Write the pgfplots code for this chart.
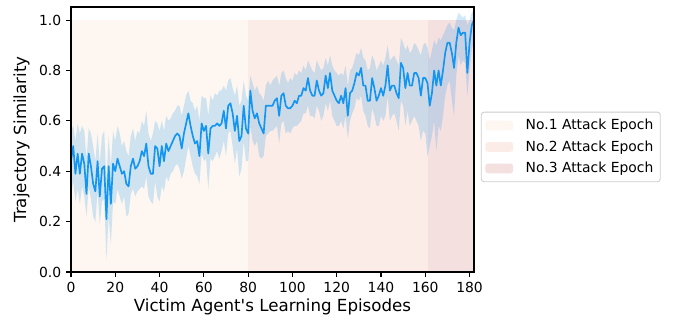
\documentclass[border=0pt]{standalone}
\usepackage{fontspec}
\setmainfont{DejaVu Sans}
\newfontfamily\dv{DejaVu Sans}
\usepackage{pgfplots}
\pgfplotsset{compat=1.18}
\usepgfplotslibrary{fillbetween}
\usepackage{pgfplotstable}

\definecolor{regA}{RGB}{253,246,241}
\definecolor{regB}{RGB}{251,236,231}
\definecolor{regC}{RGB}{245,224,224}
\definecolor{linec}{RGB}{20,150,240}

\pgfplotstableread{
x y lo hi
0 0.44 0.30 0.56
1 0.50 0.36 0.58
2 0.39 0.28 0.52
3 0.47 0.33 0.59
4 0.39 0.27 0.55
5 0.47 0.34 0.58
6 0.43 0.30 0.56
7 0.31 0.22 0.45
8 0.47 0.34 0.57
9 0.42 0.29 0.55
10 0.35 0.22 0.50
11 0.32 0.20 0.44
12 0.44 0.32 0.55
13 0.30 0.19 0.43
14 0.41 0.28 0.54
15 0.42 0.29 0.56
16 0.21 0.05 0.36
17 0.42 0.22 0.54
18 0.27 0.11 0.42
19 0.43 0.28 0.56
20 0.40 0.27 0.52
21 0.45 0.33 0.58
22 0.42 0.30 0.55
23 0.39 0.27 0.50
24 0.40 0.30 0.52
25 0.35 0.22 0.48
26 0.34 0.23 0.46
27 0.42 0.31 0.54
28 0.45 0.33 0.57
29 0.41 0.30 0.52
30 0.42 0.32 0.56
31 0.44 0.33 0.55
32 0.48 0.34 0.60
33 0.46 0.33 0.58
34 0.51 0.38 0.64
35 0.42 0.30 0.55
36 0.39 0.28 0.52
37 0.39 0.27 0.55
38 0.50 0.36 0.60
39 0.49 0.30 0.59
40 0.42 0.28 0.56
41 0.50 0.34 0.60
42 0.44 0.32 0.56
43 0.51 0.38 0.62
44 0.48 0.36 0.60
45 0.50 0.39 0.61
46 0.52 0.40 0.63
47 0.54 0.42 0.64
48 0.55 0.43 0.66
49 0.54 0.41 0.66
50 0.49 0.37 0.62
51 0.55 0.40 0.66
52 0.59 0.45 0.70
53 0.63 0.50 0.72
54 0.58 0.46 0.68
55 0.54 0.42 0.67
56 0.51 0.39 0.64
57 0.52 0.38 0.66
58 0.46 0.35 0.60
59 0.59 0.47 0.70
60 0.56 0.44 0.69
61 0.58 0.45 0.69
62 0.47 0.33 0.62
63 0.57 0.45 0.70
64 0.58 0.44 0.68
65 0.58 0.46 0.71
66 0.59 0.48 0.70
67 0.58 0.45 0.72
68 0.59 0.48 0.72
69 0.64 0.52 0.74
70 0.57 0.46 0.72
71 0.66 0.55 0.76
72 0.67 0.56 0.77
73 0.63 0.50 0.73
74 0.56 0.43 0.70
75 0.62 0.49 0.74
76 0.52 0.38 0.66
77 0.54 0.41 0.68
78 0.66 0.52 0.76
79 0.57 0.44 0.70
80 0.55 0.44 0.68
81 0.72 0.58 0.78
82 0.64 0.52 0.75
83 0.61 0.50 0.72
84 0.63 0.52 0.74
85 0.59 0.46 0.71
86 0.57 0.45 0.70
87 0.55 0.46 0.68
88 0.66 0.54 0.74
89 0.66 0.55 0.76
90 0.66 0.56 0.74
91 0.66 0.56 0.76
92 0.68 0.57 0.77
93 0.69 0.58 0.78
94 0.62 0.51 0.74
95 0.70 0.59 0.79
96 0.71 0.60 0.80
97 0.66 0.55 0.77
98 0.65 0.56 0.75
99 0.65 0.55 0.77
100 0.66 0.57 0.76
101 0.68 0.58 0.79
102 0.67 0.58 0.78
103 0.70 0.59 0.80
104 0.70 0.60 0.79
105 0.73 0.63 0.82
106 0.72 0.63 0.80
107 0.77 0.66 0.84
108 0.72 0.62 0.82
109 0.70 0.62 0.80
110 0.70 0.61 0.79
111 0.76 0.66 0.84
112 0.72 0.64 0.82
113 0.70 0.60 0.80
114 0.71 0.62 0.81
115 0.78 0.67 0.85
116 0.73 0.64 0.82
117 0.79 0.68 0.86
118 0.72 0.62 0.82
119 0.70 0.60 0.80
120 0.68 0.58 0.79
121 0.67 0.58 0.78
122 0.70 0.60 0.79
123 0.67 0.57 0.78
124 0.73 0.62 0.82
125 0.62 0.53 0.74
126 0.71 0.60 0.80
127 0.72 0.63 0.81
128 0.75 0.65 0.84
129 0.79 0.69 0.87
130 0.78 0.68 0.86
131 0.81 0.70 0.89
132 0.74 0.64 0.85
133 0.74 0.62 0.84
134 0.68 0.58 0.80
135 0.68 0.57 0.81
136 0.77 0.65 0.86
137 0.73 0.62 0.84
138 0.68 0.58 0.80
139 0.70 0.58 0.82
140 0.73 0.62 0.84
141 0.70 0.60 0.82
142 0.74 0.62 0.85
143 0.82 0.70 0.90
144 0.72 0.60 0.84
145 0.74 0.62 0.85
146 0.74 0.63 0.86
147 0.71 0.60 0.84
148 0.69 0.56 0.82
149 0.83 0.68 0.93
150 0.81 0.66 0.91
151 0.73 0.58 0.88
152 0.79 0.64 0.90
153 0.74 0.58 0.87
154 0.74 0.60 0.88
155 0.79 0.62 0.91
156 0.79 0.60 0.90
157 0.77 0.58 0.88
158 0.70 0.52 0.86
159 0.77 0.56 0.90
160 0.77 0.55 0.91
161 0.75 0.46 0.89
162 0.66 0.50 0.84
163 0.71 0.54 0.88
164 0.80 0.60 0.92
165 0.74 0.48 0.90
166 0.80 0.58 0.93
167 0.74 0.56 0.92
168 0.80 0.62 0.94
169 0.87 0.70 0.96
170 0.91 0.74 0.98
171 0.91 0.76 0.99
172 0.87 0.68 0.97
173 0.81 0.62 0.96
174 0.91 0.78 1.00
175 0.97 0.86 1.03
176 0.94 0.82 1.02
177 0.95 0.84 1.01
178 0.95 0.83 1.02
179 0.79 0.70 0.98
180 0.91 0.80 1.00
181 0.98 0.88 1.03
182 1.00 0.92 1.04
}\data

\begin{document}
\begin{tikzpicture}
\begin{axis}[
  scale only axis,
  width=290.16pt, height=190.8pt,
  xmin=0, xmax=182, ymin=0, ymax=1.052,
  axis on top,
  axis line style={line width=0.8pt},
  every tick/.style={black, line width=0.8pt},
  major tick length=3.5pt,
  tick align=outside,
  xtick pos=bottom, ytick pos=left,
  xtick={0,20,...,180},
  ytick={0,0.2,0.4,0.6,0.8,1.0},
  yticklabel style={/pgf/number format/fixed,/pgf/number format/precision=1,/pgf/number format/fixed zerofill},
  /pgf/number format/assume math mode=true,
  tick label style={font=\dv\fontsize{10}{12}\selectfont},
  label style={font=\dv\fontsize{12}{14}\selectfont},
  xlabel={Victim Agent's Learning Episodes},
  ylabel={Trajectory Similarity},
  xlabel style={yshift=2pt},
  legend style={at={(1.017,0.472)}, anchor=west, draw=black!20, line width=0.6pt, rounded corners=2pt,
    font=\dv\fontsize{10}{12}\selectfont, row sep=2.4pt, inner xsep=3pt, inner ysep=3pt},
  legend cell align=left,
]
\addplot[draw=none, fill=regA, on layer=axis background, legend image code/.code={\fill[regA] (0pt,-3.5pt) rectangle (20pt,3.5pt); \path (27pt,0pt);}] coordinates {(0,0) (0,1) (80,1) (80,0)};
\addlegendentry{No.1 Attack Epoch}
\addplot[draw=none, fill=regB, on layer=axis background, legend image code/.code={\fill[regB] (0pt,-3.5pt) rectangle (20pt,3.5pt); \path (27pt,0pt);}] coordinates {(80,0) (80,1) (161,1) (161,0)};
\addlegendentry{No.2 Attack Epoch}
\addplot[draw=none, fill=regC, on layer=axis background, legend image code/.code={\fill[regC] (0pt,-3.5pt) rectangle (20pt,3.5pt); \path (27pt,0pt);}] coordinates {(161,0) (161,1) (182,1) (182,0)};
\addlegendentry{No.3 Attack Epoch\hspace{5pt}}

\addplot[name path=H, draw=none, forget plot] table[x=x,y=hi]{\data};
\addplot[name path=L, draw=none, forget plot] table[x=x,y=lo]{\data};
\addplot[fill=linec, fill opacity=0.2, draw=none, forget plot] fill between[of=H and L];
\addplot[linec, line width=1.2pt, line join=round, forget plot] table[x=x,y=y]{\data};
\end{axis}
\pgfresetboundingbox
\path[use as bounding box] (current axis.south west) ++(-51.12pt,-37.44pt) rectangle ++(484.56pt,233.28pt);
\end{tikzpicture}
\end{document}
